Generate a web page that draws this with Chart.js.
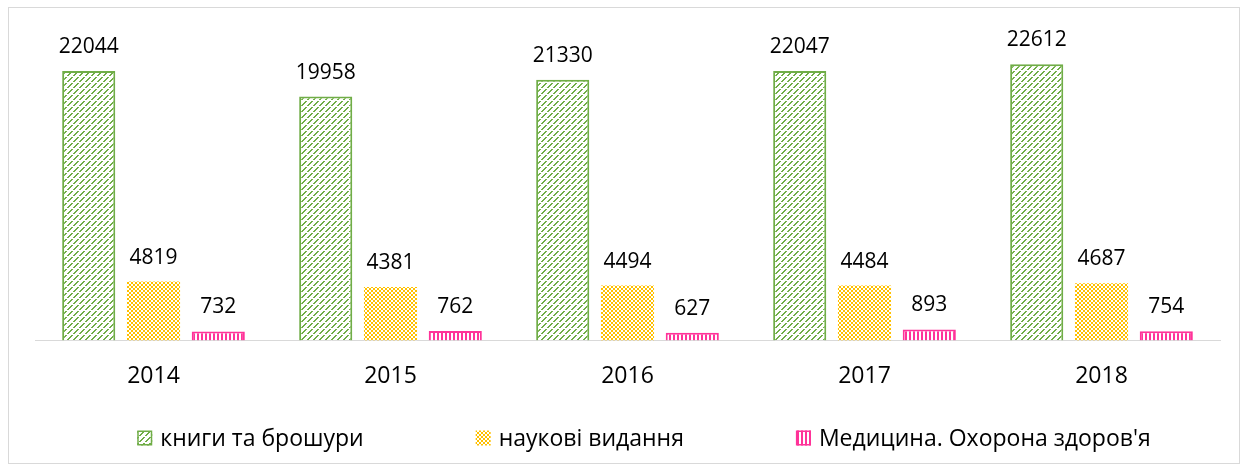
<!DOCTYPE html>
<html>
<head>
<meta charset="utf-8">
<script src="https://cdn.jsdelivr.net/npm/chart.js@4"></script>
<style>
  body { margin: 0; background: #fff; }
  #wrap { position: absolute; left: 8px; top: 7px; width: 1232px; height: 457px; border: 1px solid #d9d9d9; box-sizing: border-box; }
</style>
</head>
<body>
<div id="wrap"><canvas id="barChart"></canvas></div>
<script>
const years = ['2014', '2015', '2016', '2017', '2018'];
const books = [22044, 19958, 21330, 22047, 22612];
const science = [4819, 4381, 4494, 4484, 4687];
const medicine = [732, 762, 627, 893, 754];
const seriesNames = ['книги та брошури', 'наукові видання', "Медицина. Охорона здоров'я"];

const FONT = '"Open Sans", sans-serif';
const tmp = document.createElement('canvas').getContext('2d');
function pat(size, draw) {
  const c = document.createElement('canvas');
  c.width = size; c.height = size;
  const g = c.getContext('2d');
  g.fillStyle = '#fff';
  g.fillRect(0, 0, size, size);
  draw(g);
  return tmp.createPattern(c, 'repeat');
}

const greenPat = pat(6, g => {
  g.fillStyle = '#70ad47';
  for (let i = 0; i < 6; i++) {
    if (i === 3) continue;
    g.fillRect(i, 5 - i, 1, 1);
    g.fillRect((i + 1) % 6, 5 - i, 1, 1);
  }
});
const yellowPat = pat(4, g => {
  g.fillStyle = '#ffc000';
  g.fillRect(0, 0, 2, 2);
  g.fillRect(2, 2, 2, 2);
  g.fillRect(1, 1, 1, 1);
  g.fillRect(3, 3, 1, 1);
});
const pinkPat = pat(4, g => {
  g.fillStyle = '#ff3399';
  g.fillRect(0, 0, 2, 4);
});

const valueLabels = {
  id: 'valueLabels',
  afterDatasetsDraw(chart) {
    const ctx = chart.ctx;
    ctx.save();
    ctx.font = '21px ' + FONT;
    ctx.fillStyle = '#000';
    ctx.textAlign = 'center';
    ctx.textBaseline = 'alphabetic';
    chart.data.datasets.forEach((ds, i) => {
      chart.getDatasetMeta(i).data.forEach((bar, j) => {
        ctx.fillText(ds.data[j], bar.x, bar.y - 18);
      });
    });
    ctx.restore();
  }
};

// legend drawn by hand so the wide gaps don't add height
const wideLegend = {
  id: 'wideLegend',
  afterDraw(chart) {
    const ctx = chart.ctx;
    const box = 15, gapBox = 8, gapItem = 112;
    ctx.save();
    ctx.font = '23px ' + FONT;
    ctx.textBaseline = 'middle';
    const ds = chart.data.datasets;
    const widths = ds.map(d => box + gapBox + ctx.measureText(d.label).width);
    const total = widths.reduce((a, b) => a + b, 0) + gapItem * (ds.length - 1);
    let x = chart.width / 2 - total / 2 + 20;
    const y = chart.height - 25;
    ds.forEach((d, i) => {
      ctx.fillStyle = d.backgroundColor;
      ctx.fillRect(x, y - box / 2, box, box);
      if (d.borderWidth) {
        ctx.strokeStyle = d.borderColor;
        ctx.lineWidth = 1.5;
        ctx.strokeRect(x + 0.75, y - box / 2 + 0.75, box - 1.5, box - 1.5);
      }
      ctx.fillStyle = '#000';
      ctx.fillText(d.label, x + box + gapBox, y + 1);
      x += widths[i] + gapItem;
    });
    ctx.restore();
  }
};

const ctx = document.getElementById('barChart').getContext('2d');
new Chart(ctx, {
  type: 'bar',
  data: {
    labels: years,
    datasets: [
      { label: seriesNames[0], data: books, backgroundColor: greenPat, borderColor: '#70ad47', borderWidth: 2 },
      { label: seriesNames[1], data: science, backgroundColor: yellowPat, borderColor: '#ffc000', borderWidth: 0 },
      { label: seriesNames[2], data: medicine, backgroundColor: pinkPat, borderColor: '#ff3399', borderWidth: 2 }
    ]
  },
  options: {
    responsive: true,
    maintainAspectRatio: false,
    animation: false,
    categoryPercentage: 0.82,
    barPercentage: 0.82,
    layout: { padding: { left: 26, right: 19, top: 27, bottom: 59 } },
    plugins: {
      tooltip: { enabled: false },
      legend: { display: false }
    },
    scales: {
      x: {
        grid: { display: false },
        border: { display: true, color: '#d9d9d9', width: 1 },
        ticks: { color: '#000', font: { size: 23, family: FONT }, padding: 14 }
      },
      y: { display: false, min: 0, max: 25000 }
    }
  },
  plugins: [valueLabels, wideLegend]
});
</script>
</body>
</html>
